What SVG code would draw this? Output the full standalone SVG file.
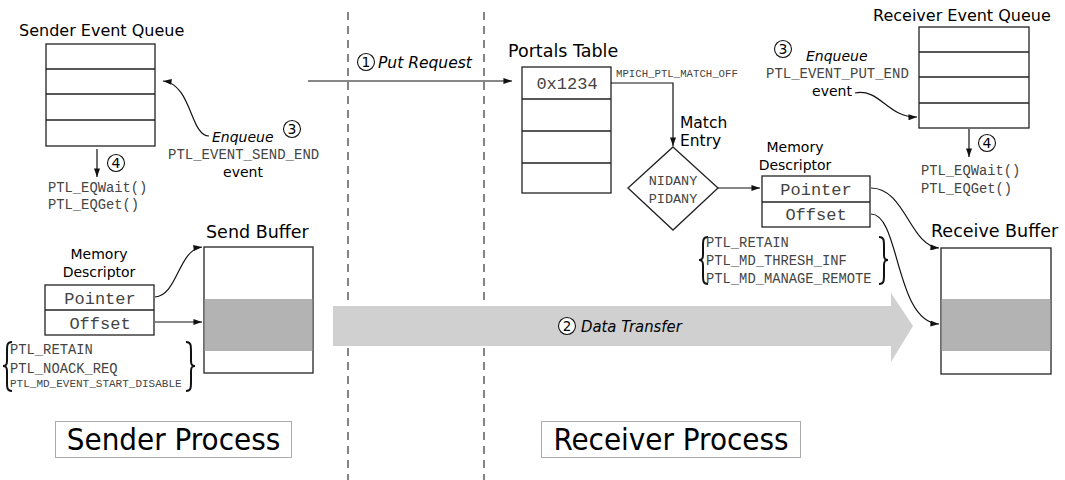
<svg xmlns="http://www.w3.org/2000/svg" width="1065" height="480" viewBox="0 0 1065 480">
  <style>
    .sans { font-family: "DejaVu Sans", Verdana, sans-serif; fill: #000; }
    .ital { font-family: "DejaVu Sans", Verdana, sans-serif; font-style: italic; fill: #000; }
    .cond { font-family: "DejaVu Sans Condensed", "DejaVu Sans", sans-serif; font-stretch: condensed; fill: #000; }
    .mono { font-family: "Liberation Mono", "Courier New", monospace; fill: #444; }
    .box { fill: #fff; stroke: #222; stroke-width: 1.3; }
    .row { stroke: #222; stroke-width: 1.3; fill: none; }
    .arr { stroke: #111; stroke-width: 1.2; fill: none; marker-end: url(#tip); }
    .brace { stroke: #111; stroke-width: 2; fill: none; }
    .num { fill: #fff; stroke: #111; stroke-width: 1.1; }
    .divider { stroke: #333; stroke-width: 1.2; stroke-dasharray: 8 6; }
    .label { fill: #fff; stroke: #555; stroke-width: 1; stroke-dasharray: 1 1; }
    .fill { fill: #b3b3b3; }
  </style>
  <defs>
    <marker id="tip" viewBox="0 0 10 7" refX="10" refY="3.5" markerWidth="9" markerHeight="6" markerUnits="userSpaceOnUse" orient="auto">
      <path d="M0,0 L10,3.5 L0,7 z" fill="#111"/>
    </marker>
  </defs>

  <!-- process boundaries -->
  <g id="dividers">
    <line class="divider" x1="348" y1="12" x2="348" y2="480"/>
    <line class="divider" x1="484" y1="12" x2="484" y2="480"/>
  </g>

  <!-- data transfer band -->
  <g id="data-transfer">
    <polygon points="333,306 891,306 891,293 913,326 891,362 891,346 333,346" fill="#d0d0d0"/>
    <circle class="num" cx="567" cy="326" r="8.5"/>
    <text class="sans" x="567" y="331" font-size="13.5" text-anchor="middle">2</text>
    <text class="cond" x="581" y="332" font-size="16.5" font-style="italic">Data Transfer</text>
  </g>

  <!-- sender event queue -->
  <g id="sender-eq">
    <text class="sans" x="19" y="36" font-size="16">Sender Event Queue</text>
    <rect class="box" x="46" y="44" width="109" height="102"/>
    <path class="row" d="M46,69 H155 M46,94 H155 M46,120 H155"/>
  </g>

  <!-- sender memory descriptor -->
  <g id="sender-md">
    <text class="sans" x="99" y="259" font-size="14" text-anchor="middle">Memory</text>
    <text class="sans" x="99" y="277" font-size="14" text-anchor="middle">Descriptor</text>
    <rect class="box" x="45" y="285" width="109" height="50"/>
    <path class="row" d="M45,310 H154"/>
    <text class="mono" x="100" y="304" font-size="17" text-anchor="middle">Pointer</text>
    <text class="mono" x="100" y="329" font-size="17" text-anchor="middle">Offset</text>
  </g>

  <!-- sender options -->
  <g id="sender-opts">
    <path class="brace" d="M12,342 C7,342 7,345 7,352 L7,361 C7,365 6,366 3,366 C6,366 7,367 7,371 L7,381 C7,388 7,391 12,391"/>
    <path class="brace" d="M186,342 C191,342 191,345 191,352 L191,361 C191,365 192,366 195,366 C192,366 191,367 191,371 L191,381 C191,388 191,391 186,391"/>
    <text class="mono" x="10" y="354" font-size="13.8">PTL_RETAIN</text>
    <text class="mono" x="10" y="373" font-size="13.8">PTL_NOACK_REQ</text>
    <text class="mono" x="10" y="387" font-size="11">PTL_MD_EVENT_START_DISABLE</text>
  </g>

  <!-- send buffer -->
  <g id="send-buffer">
    <text class="sans" x="206" y="238" font-size="17.5">Send Buffer</text>
    <rect class="box" x="204" y="247" width="109" height="126"/>
    <rect class="fill" x="204.7" y="299" width="107.6" height="52"/>
  </g>

  <!-- sender event text -->
  <g id="sender-event">
    <circle class="num" cx="292" cy="129" r="8.5"/>
    <text class="sans" x="292" y="134" font-size="14" text-anchor="middle">3</text>
    <text class="ital" x="212" y="142" font-size="14">Enqueue</text>
    <text class="mono" x="168" y="159" font-size="14">PTL_EVENT_SEND_END</text>
    <text class="sans" x="243" y="177" font-size="14" text-anchor="middle">event</text>
    <circle class="num" cx="116" cy="163" r="8.5"/>
    <text class="sans" x="116" y="168" font-size="14" text-anchor="middle">4</text>
    <text class="mono" x="48" y="192" font-size="13.8">PTL_EQWait()</text>
    <text class="mono" x="48" y="209" font-size="13.8">PTL_EQGet()</text>
  </g>

  <!-- put request label -->
  <g id="put-request">
    <circle class="num" cx="366" cy="62" r="8.5"/>
    <text class="sans" x="366" y="67" font-size="14" text-anchor="middle">1</text>
    <text class="ital" x="378" y="68" font-size="15.5">Put Request</text>
  </g>

  <!-- portals table -->
  <g id="portals-table">
    <text class="sans" x="508" y="57" font-size="17.5">Portals Table</text>
    <rect class="box" x="522" y="67" width="89" height="126"/>
    <path class="row" d="M522,99 H611 M522,131 H611 M522,163 H611"/>
    <text class="mono" x="567" y="89" font-size="17" text-anchor="middle">0x1234</text>
  </g>

  <!-- match entry -->
  <g id="match-entry">
    <text class="mono" x="616" y="77" font-size="10.7">MPICH_PTL_MATCH_OFF</text>
    <text class="sans" x="680" y="128" font-size="15.5">Match</text>
    <text class="sans" x="680" y="146" font-size="15.5">Entry</text>
    <polygon class="box" points="673,147 718,188 673,230 628,188"/>
    <text class="mono" x="673" y="185" font-size="13.5" text-anchor="middle">NIDANY</text>
    <text class="mono" x="673" y="203" font-size="13.5" text-anchor="middle">PIDANY</text>
  </g>

  <!-- receiver memory descriptor -->
  <g id="receiver-md">
    <text class="sans" x="795" y="152" font-size="14" text-anchor="middle">Memory</text>
    <text class="sans" x="795" y="170" font-size="14" text-anchor="middle">Descriptor</text>
    <rect class="box" x="762" y="176" width="108" height="51"/>
    <path class="row" d="M762,202 H870"/>
    <text class="mono" x="816" y="195" font-size="17" text-anchor="middle">Pointer</text>
    <text class="mono" x="816" y="220" font-size="17" text-anchor="middle">Offset</text>
  </g>

  <!-- receiver options -->
  <g id="receiver-opts">
    <path class="brace" d="M708,237 C703,237 703,240 703,247 L703,255 C703,259 702,260 699,260 C702,260 703,261 703,265 L703,274 C703,281 703,284 708,284"/>
    <path class="brace" d="M879,237 C884,237 884,240 884,247 L884,255 C884,259 885,260 888,260 C885,260 884,261 884,265 L884,274 C884,281 884,284 879,284"/>
    <text class="mono" x="706" y="247" font-size="13.8">PTL_RETAIN</text>
    <text class="mono" x="706" y="265" font-size="13.8">PTL_MD_THRESH_INF</text>
    <text class="mono" x="706" y="283" font-size="13.8">PTL_MD_MANAGE_REMOTE</text>
  </g>

  <!-- receiver event queue -->
  <g id="receiver-eq">
    <text class="sans" x="873" y="21" font-size="16">Receiver Event Queue</text>
    <rect class="box" x="919" y="27" width="110" height="101"/>
    <path class="row" d="M919,52 H1029 M919,77 H1029 M919,103 H1029"/>
  </g>

  <!-- receiver event text -->
  <g id="receiver-event">
    <circle class="num" cx="783" cy="49" r="8.5"/>
    <text class="sans" x="783" y="54" font-size="14" text-anchor="middle">3</text>
    <text class="ital" x="806" y="61" font-size="14">Enqueue</text>
    <text class="mono" x="766" y="78" font-size="14">PTL_EVENT_PUT_END</text>
    <text class="sans" x="832" y="96" font-size="14" text-anchor="middle">event</text>
    <circle class="num" cx="987" cy="143" r="8.5"/>
    <text class="sans" x="987" y="148" font-size="14" text-anchor="middle">4</text>
    <text class="mono" x="921" y="175" font-size="13.8">PTL_EQWait()</text>
    <text class="mono" x="921" y="193" font-size="13.8">PTL_EQGet()</text>
  </g>

  <!-- receive buffer -->
  <g id="receive-buffer">
    <text class="sans" x="931" y="237" font-size="17.5">Receive Buffer</text>
    <rect class="box" x="941" y="248" width="110" height="126"/>
    <rect class="fill" x="941.7" y="299" width="108.6" height="52"/>
  </g>

  <!-- process labels -->
  <g id="sender-process">
    <rect class="label" x="55.5" y="421.5" width="236" height="36"/>
    <text class="cond" x="173.5" y="450" font-size="31" text-anchor="middle">Sender Process</text>
  </g>
  <g id="receiver-process">
    <rect class="label" x="541.5" y="421.5" width="259" height="36"/>
    <text class="cond" x="671" y="450" font-size="31" text-anchor="middle">Receiver Process</text>
  </g>

  <!-- connectors -->
  <g id="connectors">
    <path class="arr" d="M209,136 C190,136 192,84 163,81"/>
    <path class="arr" d="M97,149 V177"/>
    <path class="arr" d="M308,81 H512"/>
    <path class="arr" d="M611,83 H673 V146"/>
    <path class="arr" d="M718,188 H760"/>
    <path class="arr" d="M855,93 C880,88 888,118 917,117"/>
    <path class="arr" d="M969,129 V157"/>
    <path class="arr" d="M871,188 C905,188 910,246 939,248"/>
    <path class="arr" d="M871,214 C900,214 895,322 939,324"/>
    <path class="arr" d="M155,297 C178,295 178,250 202,247"/>
    <path class="arr" d="M155,322 H202"/>
  </g>
</svg>
